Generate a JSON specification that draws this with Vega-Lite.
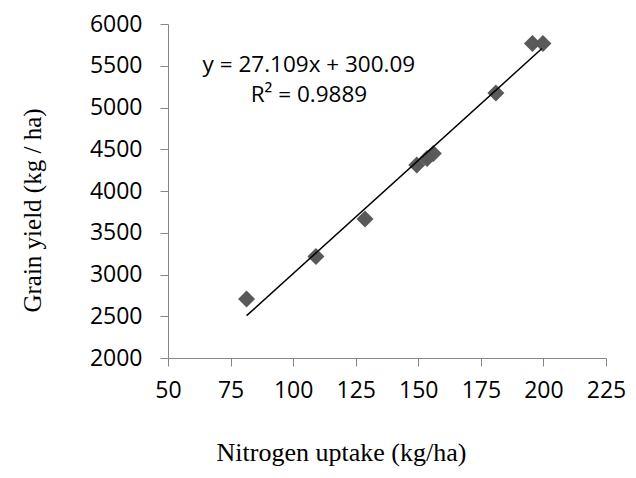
{
  "$schema": "https://vega.github.io/schema/vega-lite/v6.json",
  "width": 438,
  "height": 334,
  "autosize": "none",
  "padding": {"left": 168, "top": 24, "right": 30, "bottom": 120},
  "background": "white",
  "config": {"view": {"stroke": null}},
  "datasets": {
    "points": [
      {"uptake": 81.4, "yield": 2706},
      {"uptake": 109.1, "yield": 3217},
      {"uptake": 128.7, "yield": 3665},
      {"uptake": 149.4, "yield": 4312},
      {"uptake": 153.5, "yield": 4390},
      {"uptake": 156.0, "yield": 4450},
      {"uptake": 181.0, "yield": 5174},
      {"uptake": 195.6, "yield": 5765},
      {"uptake": 199.8, "yield": 5765}
    ],
    "trend": [
      {"uptake": 81.4, "yield": 2507},
      {"uptake": 199.4, "yield": 5706}
    ]
  },
  "layer": [
    {
      "data": {"name": "points"},
      "mark": {"type": "point", "shape": "diamond", "filled": true, "size": 289, "color": "#595959", "opacity": 1, "strokeWidth": 0},
      "encoding": {
        "x": {
          "field": "uptake", "type": "quantitative",
          "scale": {"domain": [50, 225], "nice": false, "zero": false},
          "axis": {
            "values": [50, 75, 100, 125, 150, 175, 200, 225], "format": "d",
            "grid": false, "tickSize": 8, "tickColor": "#868686", "domainColor": "#868686",
            "labelFont": "Open Sans", "labelFontSize": 23, "labelColor": "black", "labelPadding": 13,
            "labelFlush": false, "labelOverlap": false,
            "title": "Nitrogen uptake (kg/ha)", "titleFont": "Liberation Serif", "titleFontSize": 26,
            "titleFontWeight": "normal", "titleColor": "black",
            "titleX": 173, "titleY": 102, "titleBaseline": "alphabetic", "titleAlign": "center"
          }
        },
        "y": {
          "field": "yield", "type": "quantitative",
          "scale": {"domain": [2000, 6000], "nice": false, "zero": false},
          "axis": {
            "values": [2000, 2500, 3000, 3500, 4000, 4500, 5000, 5500, 6000], "format": "d",
            "grid": false, "tickSize": 8, "tickColor": "#868686", "domainColor": "#868686",
            "labelFont": "Open Sans", "labelFontSize": 23, "labelColor": "black", "labelPadding": 18,
            "labelFlush": false, "labelOverlap": false,
            "title": "Grain yield (kg / ha)", "titleFont": "Liberation Serif", "titleFontSize": 25,
            "titleFontWeight": "normal", "titleColor": "black",
            "titleX": -128, "titleY": 186, "titleBaseline": "alphabetic", "titleAlign": "center", "titleAngle": 270
          }
        }
      }
    },
    {
      "data": {"name": "trend"},
      "mark": {"type": "line", "color": "black", "strokeWidth": 1.5},
      "encoding": {
        "x": {"field": "uptake", "type": "quantitative"},
        "y": {"field": "yield", "type": "quantitative"}
      }
    },
    {
      "data": {"values": [{"label": "y = 27.109x + 300.09"}]},
      "mark": {"type": "text", "font": "Open Sans", "fontSize": 22.5, "color": "black", "align": "center", "baseline": "alphabetic"},
      "encoding": {
        "x": {"datum": 106.3, "type": "quantitative"},
        "y": {"datum": 5420, "type": "quantitative"},
        "text": {"field": "label"}
      }
    },
    {
      "data": {"values": [{"label": "R² = 0.9889"}]},
      "mark": {"type": "text", "font": "Open Sans", "fontSize": 22.5, "color": "black", "align": "center", "baseline": "alphabetic"},
      "encoding": {
        "x": {"datum": 106.3, "type": "quantitative"},
        "y": {"datum": 5060, "type": "quantitative"},
        "text": {"field": "label"}
      }
    }
  ]
}
